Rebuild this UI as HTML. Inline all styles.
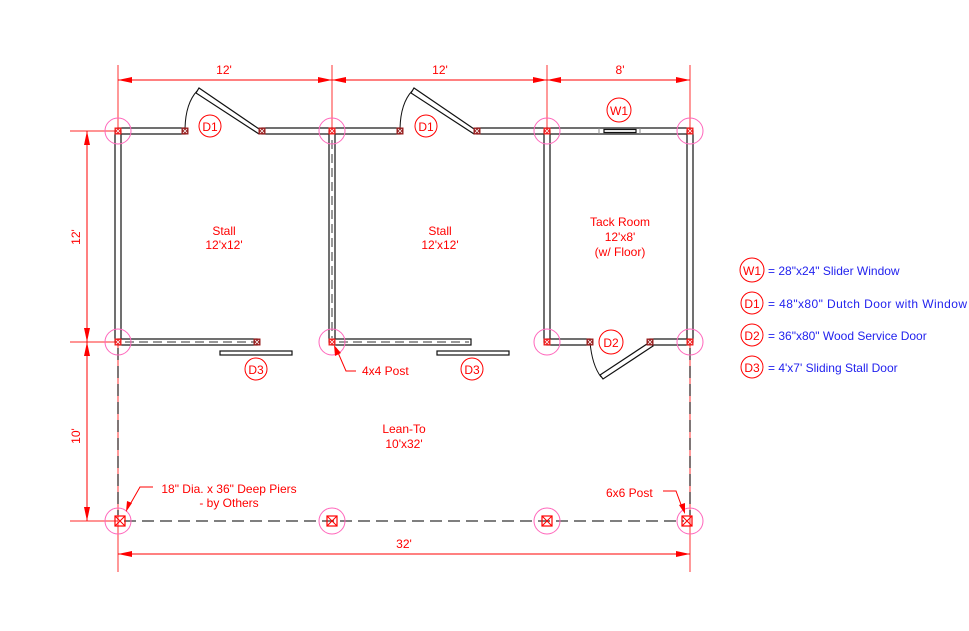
<!DOCTYPE html>
<html><head><style>body{margin:0;background:#fff}svg{display:block}text{font-family:"Liberation Sans",sans-serif;font-size:12px}</style></head><body>
<svg width="969" height="631" viewBox="0 0 969 631" xmlns="http://www.w3.org/2000/svg">
<defs>
<marker id="a" markerWidth="14" markerHeight="6" refX="14" refY="3" orient="auto-start-reverse" markerUnits="userSpaceOnUse"><path d="M0,0 L14,3 L0,6 Z" fill="#f00"/></marker>
<g id="p"><rect x="-3.5" y="-3.5" width="7" height="7" fill="#e22"/><path d="M-2,-2L2,2M2,-2L-2,2" stroke="#fff" stroke-width="0.8"/></g>
<g id="pd"><rect x="-3.5" y="-3.5" width="7" height="7" fill="#922"/><path d="M-2,-2L2,2M2,-2L-2,2" stroke="#fff" stroke-width="0.8"/></g>
<g id="bp"><rect x="-5" y="-5" width="10" height="10" fill="none" stroke="#f00" stroke-width="1.2"/><path d="M-5,-5L5,5M5,-5L-5,5" stroke="#f00" stroke-width="1"/></g>
</defs>
<g stroke="#f55" stroke-width="1.2">
<line x1="118" y1="65" x2="118" y2="572"/><line x1="690" y1="65" x2="690" y2="572"/>
<line x1="332" y1="65" x2="332" y2="131"/><line x1="547" y1="65" x2="547" y2="131"/>
<line x1="70" y1="131" x2="118" y2="131"/><line x1="70" y1="342" x2="118" y2="342"/><line x1="70" y1="521" x2="118" y2="521"/>
</g>
<g stroke="#f00" stroke-width="1">
<line x1="118" y1="80" x2="332" y2="80" marker-start="url(#a)" marker-end="url(#a)"/>
<line x1="332" y1="80" x2="547" y2="80" marker-start="url(#a)" marker-end="url(#a)"/>
<line x1="547" y1="80" x2="690" y2="80" marker-start="url(#a)" marker-end="url(#a)"/>
<line x1="87" y1="131" x2="87" y2="342" marker-start="url(#a)" marker-end="url(#a)"/>
<line x1="87" y1="342" x2="87" y2="521" marker-start="url(#a)" marker-end="url(#a)"/>
<line x1="118" y1="554" x2="690" y2="554" marker-start="url(#a)" marker-end="url(#a)"/>
</g>
<g fill="#f00" text-anchor="middle">
<text x="224" y="74">12'</text><text x="440" y="74">12'</text><text x="620" y="74">8'</text>
<text x="404" y="548">32'</text>
<text transform="translate(80,237) rotate(-90)">12'</text>
<text transform="translate(80,436) rotate(-90)">10'</text>
</g>
<g stroke="#111" stroke-width="1.2" fill="#fff">
<rect x="118" y="128" width="67" height="6"/><rect x="262" y="128" width="70" height="6"/>
<rect x="332" y="128" width="68" height="6"/><rect x="477" y="128" width="70" height="6"/>
<rect x="547" y="128" width="143" height="6"/>
<rect x="115" y="131" width="6" height="211"/><rect x="329" y="131" width="6" height="211"/>
<rect x="544" y="131" width="6" height="211"/><rect x="687" y="131" width="6" height="211"/>
<rect x="118" y="339" width="139" height="6"/><rect x="332" y="339" width="139" height="6"/>
<rect x="547" y="339" width="43" height="6"/><rect x="650" y="339" width="40" height="6"/>
<rect x="220" y="351" width="72" height="4"/><rect x="437" y="351" width="72" height="4"/>
</g>
<rect x="604" y="129.5" width="32" height="3" fill="#fff" stroke="#111" stroke-width="1.2"/>
<g stroke="#888" stroke-width="1"><line x1="599" y1="128" x2="599" y2="134"/><line x1="640" y1="128" x2="640" y2="134"/></g>
<g stroke="#333" stroke-width="1" stroke-dasharray="9,5">
<line x1="125" y1="342" x2="255" y2="342"/><line x1="339" y1="342" x2="469" y2="342"/><line x1="332" y1="140" x2="332" y2="338"/>
</g>
<g stroke="#111" stroke-width="1.2" fill="#fff">
<polygon points="262,131 199,88 196,93 259,134"/>
<polygon points="477,131 414,88 411,93 474,134"/>
<polygon points="650,342 600,375 603,379 653,346"/>
</g>
<g stroke="#111" stroke-width="1" fill="none">
<path d="M185,131 Q185,104 197,91"/><path d="M400,131 Q400,104 412,91"/><path d="M590,342 Q592,365 601,377"/>
</g>
<g stroke="#555" stroke-width="1.5" stroke-dasharray="12,6">
<line x1="118" y1="348" x2="118" y2="515"/><line x1="690" y1="348" x2="690" y2="515"/>
<line x1="124" y1="521" x2="684" y2="521"/>
</g>
<g stroke="#f6b" stroke-width="1" fill="none">
<circle cx="118" cy="131" r="13"/><circle cx="332" cy="131" r="13"/><circle cx="547" cy="131" r="13"/><circle cx="690" cy="131" r="13"/>
<circle cx="118" cy="342" r="13"/><circle cx="332" cy="342" r="13"/><circle cx="547" cy="342" r="13"/><circle cx="690" cy="342" r="13"/>
<circle cx="118" cy="521" r="13"/><circle cx="332" cy="521" r="13"/><circle cx="547" cy="521" r="13"/><circle cx="690" cy="521" r="13"/>
</g>
<use href="#p" x="118" y="131"/><use href="#p" x="332" y="131"/><use href="#p" x="547" y="131"/><use href="#p" x="690" y="131"/>
<use href="#p" x="118" y="342"/><use href="#p" x="332" y="342"/><use href="#p" x="547" y="342"/><use href="#p" x="690" y="342"/>
<use href="#pd" x="185" y="131"/><use href="#pd" x="262" y="131"/><use href="#pd" x="400" y="131"/><use href="#pd" x="477" y="131"/>
<use href="#pd" x="257" y="342"/><use href="#pd" x="590" y="342"/><use href="#pd" x="650" y="342"/>
<use href="#bp" x="120" y="521"/><use href="#bp" x="332" y="521"/><use href="#bp" x="547" y="521"/><use href="#bp" x="687" y="521"/>
<g stroke="#f00" stroke-width="1" fill="#fff">
<circle cx="210" cy="126" r="11"/><circle cx="426" cy="126" r="11"/><circle cx="619" cy="110" r="12"/>
<circle cx="611" cy="342" r="12"/><circle cx="256" cy="369" r="11"/><circle cx="472" cy="369" r="11"/>
<circle cx="752" cy="270" r="12"/><circle cx="752" cy="303" r="11"/><circle cx="752" cy="335" r="11"/><circle cx="752" cy="367" r="11"/>
</g>
<g fill="#f00" text-anchor="middle" font-size="12">
<text x="210" y="131">D1</text><text x="426" y="131">D1</text><text x="619" y="115">W1</text><text x="611" y="347">D2</text>
<text x="256" y="374">D3</text><text x="472" y="374">D3</text>
<text x="752" y="275">W1</text><text x="752" y="308">D1</text><text x="752" y="340">D2</text><text x="752" y="372">D3</text>
<text x="224" y="235">Stall</text><text x="224" y="249">12'x12'</text>
<text x="440" y="235">Stall</text><text x="440" y="249">12'x12'</text>
<text x="620" y="226">Tack Room</text><text x="620" y="241">12'x8'</text><text x="620" y="256">(w/ Floor)</text>
<text x="404" y="433">Lean-To</text><text x="404" y="448">10'x32'</text>
<text x="229" y="493">18" Dia. x 36" Deep Piers</text><text x="229" y="507">- by Others</text>
</g>
<g fill="#f00" font-size="12"><text x="362" y="375">4x4 Post</text><text x="606" y="497">6x6 Post</text></g>
<g fill="#22e" font-size="12.5">
<text x="768" y="275">= 28"x24" Slider Window</text>
<text x="768" y="308" textLength="199">= 48"x80" Dutch Door with Window</text>
<text x="768" y="340">= 36"x80" Wood Service Door</text>
<text x="768" y="372">= 4'x7' Sliding Stall Door</text>
</g>
<g stroke="#f00" stroke-width="1" fill="none">
<polyline points="356,371 346,371 336,348"/>
<polyline points="153,487 140,487 128,508"/>
<polyline points="663,491 676,491 683,510"/>
</g>
<g fill="#f00"><polygon points="334,345 335,356 341,353"/><polygon points="126,512 127,501 132,503"/><polygon points="685,514 679,505 685,503"/></g>
</svg>
</body></html>
